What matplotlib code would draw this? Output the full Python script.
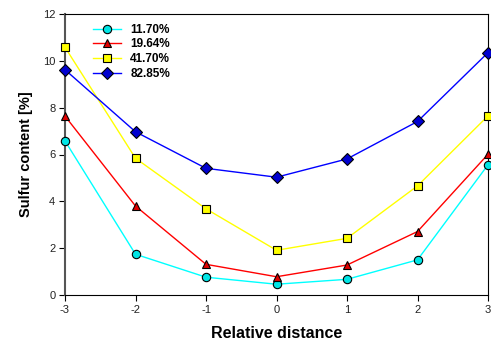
import numpy as np
import matplotlib.pyplot as plt

plt.rcParams['font.family'] = ['Liberation Sans', 'DejaVu Sans']
plt.rcParams['axes.unicode_minus'] = False

# relative distance and sulfur content per series
distance = [-3, -2, -1, 0, 1, 2, 3]
labels = ['11.70%', '19.64%', '41.70%', '82.85%']
s_1170 = [6.58, 1.74, 0.76, 0.46, 0.67, 1.50, 5.56]
s_1964 = [7.64, 3.80, 1.31, 0.78, 1.28, 2.71, 6.01]
s_4170 = [10.58, 5.84, 3.68, 1.91, 2.42, 4.66, 7.65]
s_8285 = [9.62, 6.97, 5.41, 5.03, 5.81, 7.41, 10.35]

series = [s_1170, s_1964, s_4170, s_8285]
line_colors = ['#00ffff', '#ff0000', '#ffff00', '#0000ff']
face_colors = ['#00e5e5', '#e00000', '#ffff00', '#0000d0']
markers = ['o', '^', 's', 'D']

fig = plt.figure(figsize=(4.91, 3.47), dpi=100)
ax = fig.add_axes([65/491, 52/347, 423/491, 281/347])

for vals, lab, lc, fc, m in zip(series, labels, line_colors, face_colors, markers):
    ax.plot(distance, vals, color=lc, lw=1.0, marker=m, markersize=6,
            markerfacecolor=fc, markeredgecolor='black', markeredgewidth=0.8,
            label=lab, clip_on=False, zorder=3)

ax.set_xlim(-3, 3)
ax.set_ylim(0, 12)
ax.set_xticks(distance)
ax.set_yticks([0, 2, 4, 6, 8, 10, 12])
ax.tick_params(direction='out', length=4, width=0.8, labelsize=8, pad=3,
               labelcolor='#222222')
ax.spines['left'].set_color('#555555')
ax.spines['left'].set_linewidth(1.5)
for s in ['top', 'right', 'bottom']:
    ax.spines[s].set_linewidth(0.8)

ax.set_xlabel('Relative distance', fontsize=11.5, fontweight='bold', labelpad=8)
ax.set_ylabel('Sulfur content [%]', fontsize=10.5, fontweight='bold', labelpad=7)

leg = ax.legend(loc='upper left', bbox_to_anchor=(0.04, 1.003), frameon=False,
                prop={'weight': 'bold', 'size': 8.5}, handlelength=2.4,
                labelspacing=0.23, handletextpad=0.8)

fig.savefig('out.png', dpi=100)
